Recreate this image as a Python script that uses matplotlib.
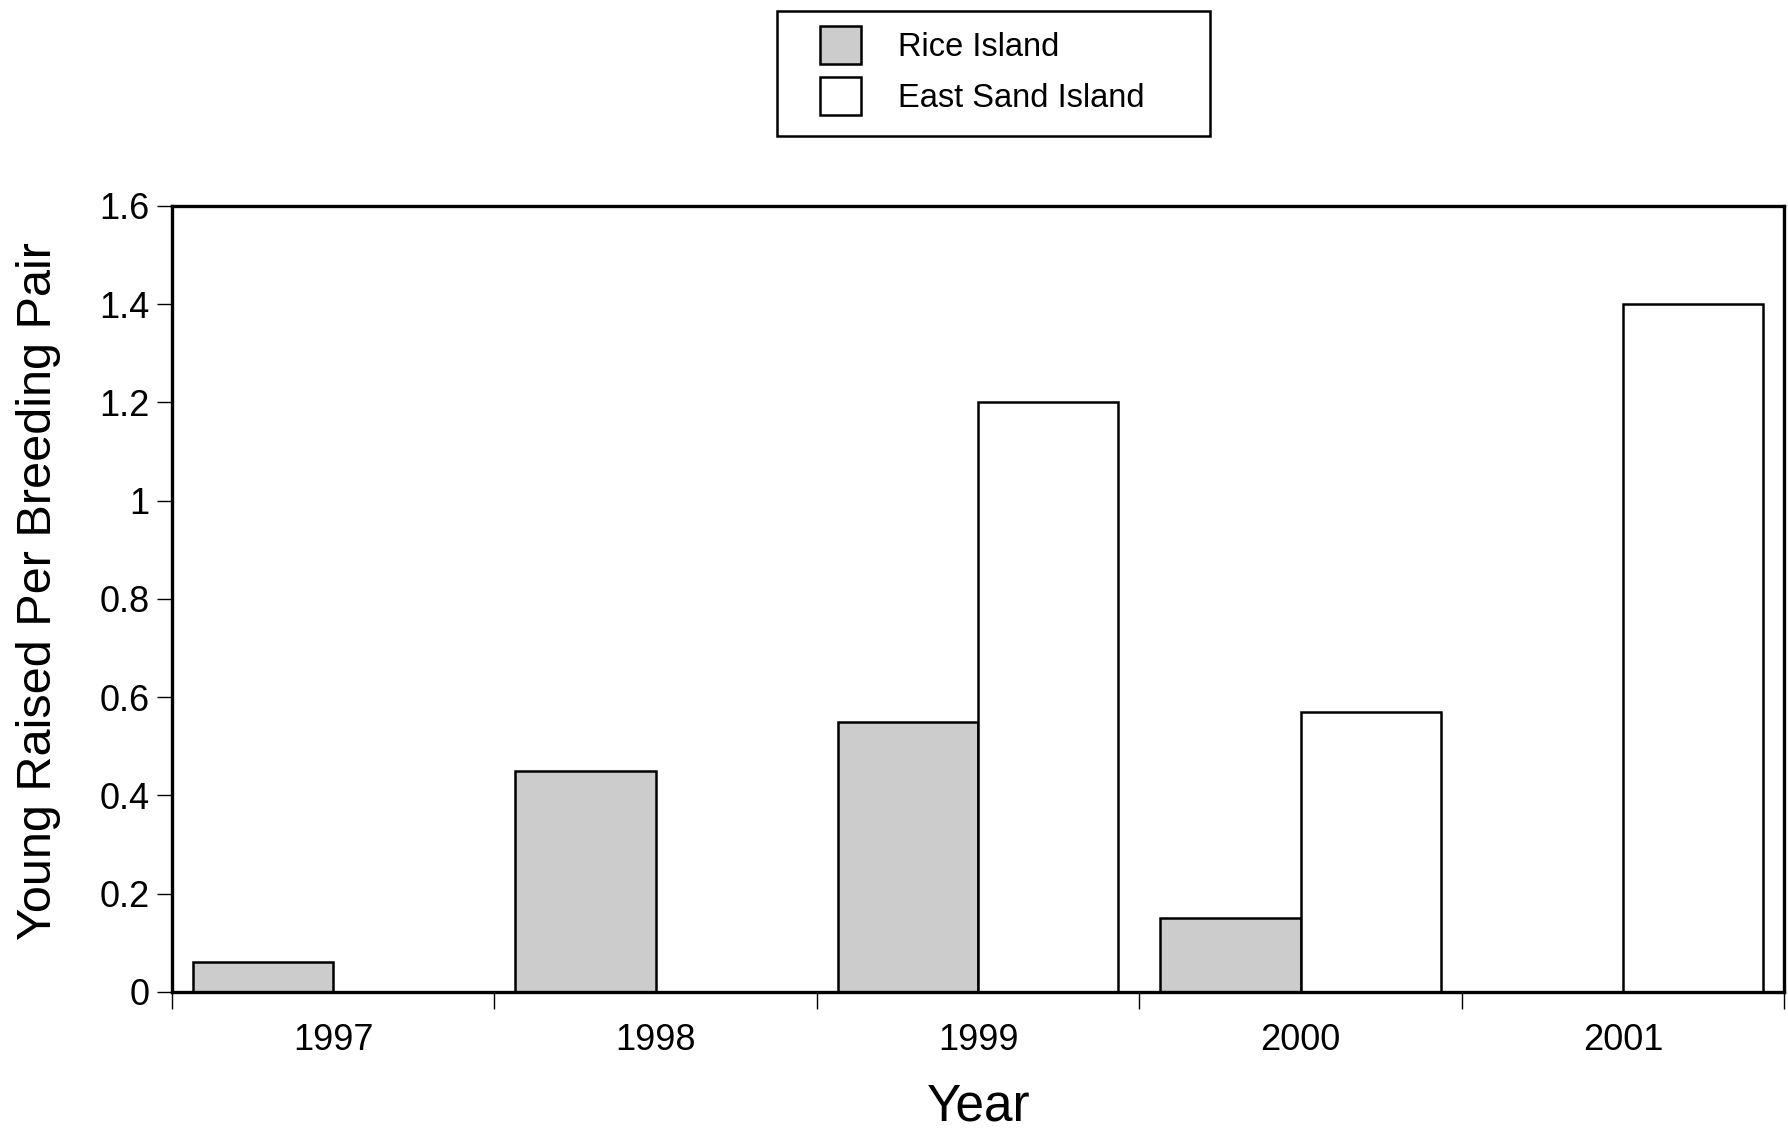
import numpy as np
import matplotlib
matplotlib.use("Agg")
import matplotlib.pyplot as plt
from matplotlib.patches import Rectangle

plt.rcParams['font.family'] = ['Liberation Sans', 'DejaVu Sans']

years = ['1997', '1998', '1999', '2000', '2001']
rice_island = [0.06, 0.45, 0.55, 0.15, 0.0]
east_sand_island = [0.0, 0.0, 1.20, 0.57, 1.40]
y_ticks = [0, 0.2, 0.4, 0.6, 0.8, 1.0, 1.2, 1.4, 1.6]
y_tick_labels = ['0', '0.2', '0.4', '0.6', '0.8', '1', '1.2', '1.4', '1.6']

fig = plt.figure(figsize=(17.88, 11.28), dpi=100)
ax = fig.add_axes([0.0962, 0.1206, 0.9018, 0.6968])

x = np.arange(len(years))
w = 0.435
lw = 1.8
rice_mask = np.array(rice_island) > 0
east_mask = np.array(east_sand_island) > 0
ax.bar(x[rice_mask] - w / 2, np.array(rice_island)[rice_mask], width=w,
       color='#cccccc', edgecolor='black', linewidth=lw, label='Rice Island')
ax.bar(x[east_mask] + w / 2, np.array(east_sand_island)[east_mask], width=w,
       color='white', edgecolor='black', linewidth=lw, label='East Sand Island')

ax.set_xlim(-0.5, len(years) - 0.5)
ax.set_ylim(0, 1.6)
ax.set_yticks(y_ticks)
ax.set_yticklabels(y_tick_labels)
ax.set_xticks(x)
ax.set_xticklabels(years)
ax.set_xticks(np.arange(len(years) + 1) - 0.5, minor=True)
ax.tick_params(axis='x', which='major', length=0, pad=22, labelsize=26)
ax.tick_params(axis='x', which='minor', length=12, width=1.0, direction='out')
ax.tick_params(axis='y', length=11, width=1.0, direction='out', pad=5, labelsize=26)

for s in ax.spines.values():
    s.set_linewidth(2.4)

ax.set_xlabel('Year', fontsize=37, labelpad=18)
ax.set_ylabel('Young Raised Per Breeding Pair', fontsize=35)
ax.yaxis.set_label_coords(-0.069, 0.51)

# legend with a hand drawn frame
handles, labels = ax.get_legend_handles_labels()
fig.legend(handles, labels, loc='upper left', bbox_to_anchor=(820 / 1788, 1 - 26 / 1128),
           frameon=False, fontsize=23.5, borderpad=0, borderaxespad=0,
           handlelength=1.25, handleheight=1.42, handletextpad=1.15, labelspacing=0.4)
fig.patches.append(Rectangle((777 / 1788, 1 - 136 / 1128), 433 / 1788, 125 / 1128,
                             transform=fig.transFigure, fill=False,
                             edgecolor='black', linewidth=1.8))

fig.savefig('out.png', dpi=100)
